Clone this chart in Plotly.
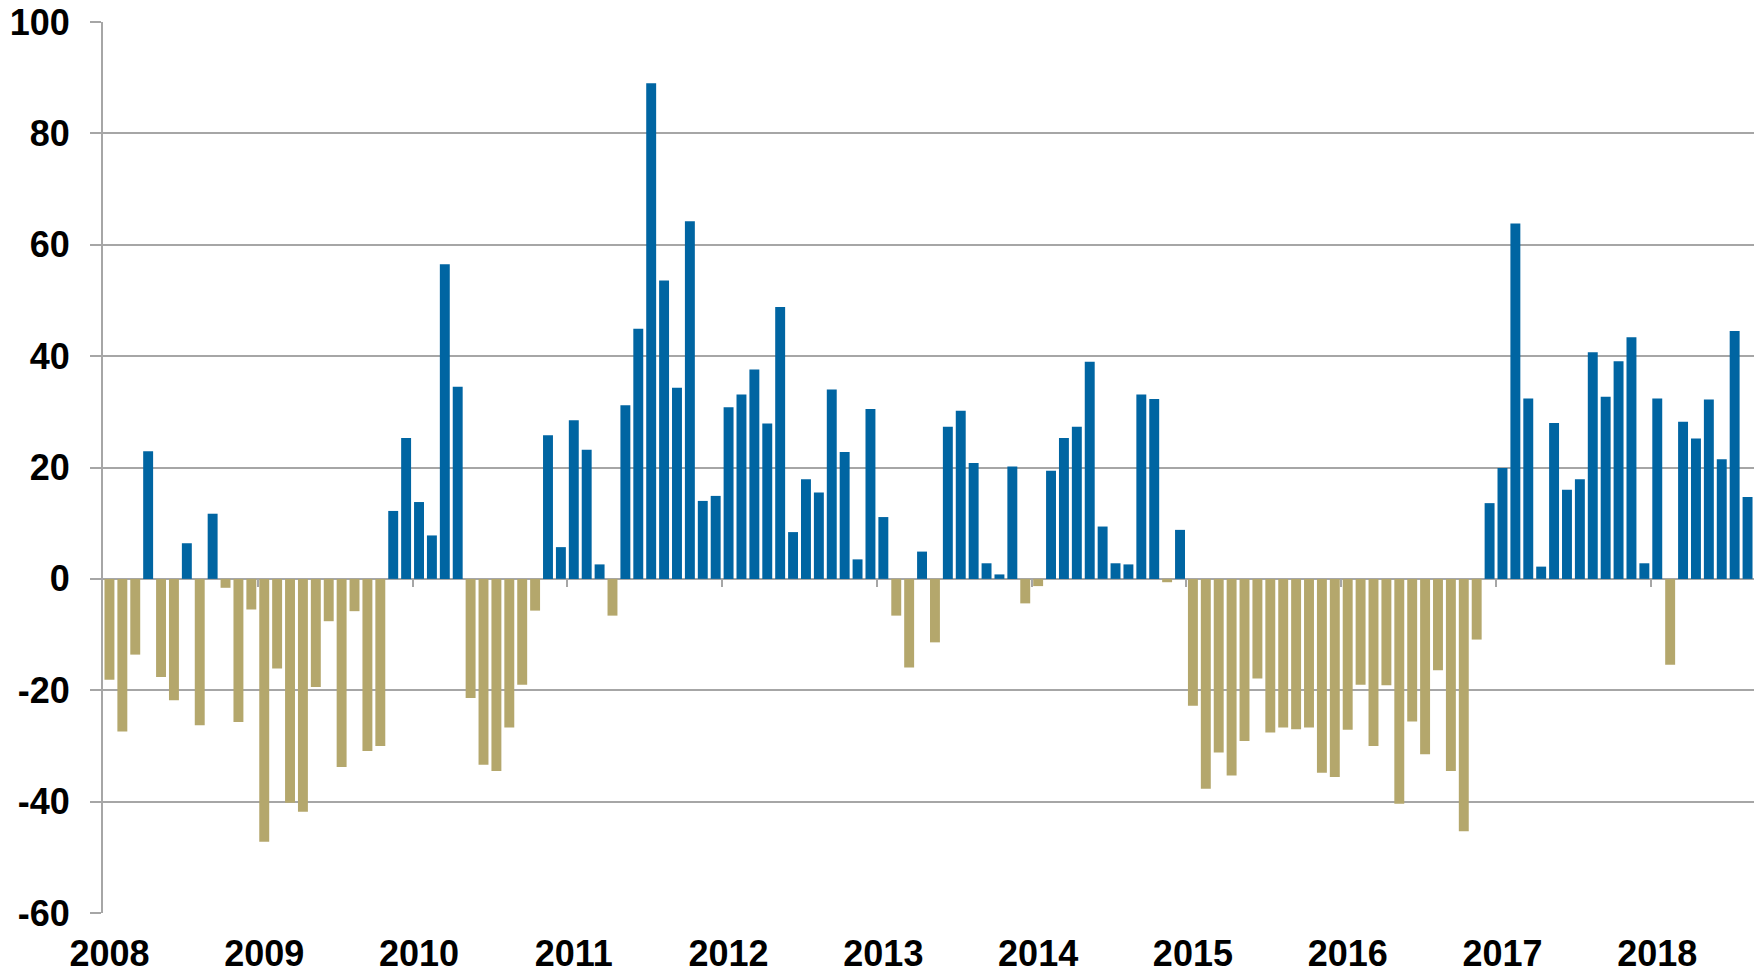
import plotly.graph_objects as go

# Monthly values, Jan 2008 .. Aug 2018
values_2008 = [-18.1, -27.4, -13.6, 22.9, -17.6, -21.8, 6.4, -26.3, 11.7, -1.6, -25.7, -5.5]
values_2009 = [-47.2, -16.1, -40.2, -41.8, -19.4, -7.6, -33.8, -5.8, -30.9, -30.0, 12.2, 25.3]
values_2010 = [13.8, 7.8, 56.5, 34.5, -21.4, -33.4, -34.5, -26.7, -19.0, -5.7, 25.8, 5.7]
values_2011 = [28.5, 23.2, 2.6, -6.6, 31.2, 44.9, 89.0, 53.6, 34.3, 64.2, 14.0, 14.9]
values_2012 = [30.8, 33.1, 37.6, 27.9, 48.8, 8.4, 17.9, 15.5, 34.0, 22.8, 3.5, 30.5]
values_2013 = [11.1, -6.6, -15.9, 4.9, -11.4, 27.3, 30.2, 20.8, 2.8, 0.8, 20.2, -4.4]
values_2014 = [-1.3, 19.4, 25.3, 27.3, 39.0, 9.4, 2.8, 2.6, 33.1, 32.3, -0.6, 8.8]
values_2015 = [-22.8, -37.7, -31.2, -35.3, -29.1, -17.9, -27.6, -26.7, -27.0, -26.7, -34.8, -35.6]
values_2016 = [-27.1, -19.0, -30.0, -19.1, -40.4, -25.6, -31.5, -16.4, -34.5, -45.3, -10.9, 13.6]
values_2017 = [19.9, 63.8, 32.4, 2.2, 28.0, 16.0, 17.9, 40.7, 32.7, 39.1, 43.4, 2.8]
values_2018 = [32.4, -15.4, 28.2, 25.2, 32.2, 21.5, 44.5, 14.7]

years = ["2008", "2009", "2010", "2011", "2012", "2013", "2014", "2015", "2016", "2017", "2018"]
yticks = [-60, -40, -20, 0, 20, 40, 60, 80, 100]

values = (values_2008 + values_2009 + values_2010 + values_2011 + values_2012 + values_2013
          + values_2014 + values_2015 + values_2016 + values_2017 + values_2018)
months = list(range(len(values)))

BLUE = "#0065A2"
KHAKI = "#B4A76C"
GRID = "#A6A6A6"

pos = [v if v > 0 else None for v in values]
neg = [v if v <= 0 else None for v in values]

fig = go.Figure()
fig.add_trace(go.Bar(x=months, y=pos, marker_color=BLUE, marker_line_width=0, showlegend=False))
fig.add_trace(go.Bar(x=months, y=neg, marker_color=KHAKI, marker_line_width=0, showlegend=False))
# helper trace so the secondary (year-boundary tick) axis is drawn
fig.add_trace(go.Scatter(x=[None], y=[None], xaxis="x2", showlegend=False, hoverinfo="skip"))

font = dict(family="Liberation Sans, Arial, sans-serif", size=36, color="black")

fig.update_layout(
    width=1759, height=974, autosize=False,
    margin=dict(l=103, r=5, t=22, b=61),
    paper_bgcolor="white", plot_bgcolor="white",
    barmode="overlay", bargap=0.23,
    font=font,
    xaxis=dict(
        range=[-0.5, len(values) - 0.5],
        tickmode="array",
        tickvals=[12 * i for i in range(len(years))],
        ticktext=[f"<b>{y}</b>" for y in years],
        ticks="outside", ticklen=9, tickcolor="rgba(0,0,0,0)",
        showgrid=False, zeroline=False, showline=False,
        tickfont=font, automargin=False,
    ),
    xaxis2=dict(
        overlaying="x", anchor="free", position=0.375,
        range=[-0.5, len(values) - 0.5],
        tickmode="array",
        tickvals=[12 * i - 0.5 for i in range(1, len(years))],
        ticks="outside", ticklen=7, tickwidth=2, tickcolor=GRID,
        showticklabels=False, showgrid=False, zeroline=False, showline=False,
        automargin=False,
    ),
    yaxis=dict(
        range=[-60, 100],
        tickmode="array",
        tickvals=yticks,
        ticktext=[f"<b>{t}</b>" for t in yticks],
        ticks="outside", ticklen=11, tickwidth=1.5, tickcolor=GRID,
        ticklabelstandoff=13,
        showgrid=True, gridcolor=GRID, gridwidth=1.5,
        zeroline=True, zerolinecolor=GRID, zerolinewidth=2,
        showline=True, linecolor=GRID, linewidth=2,
        tickfont=font, automargin=False,
    ),
)

# remove the default 8px page margin so the figure fills the window exactly
fig.write_html("out.html", config={"displayModeBar": False},
               post_script="document.body.style.margin='0';")
